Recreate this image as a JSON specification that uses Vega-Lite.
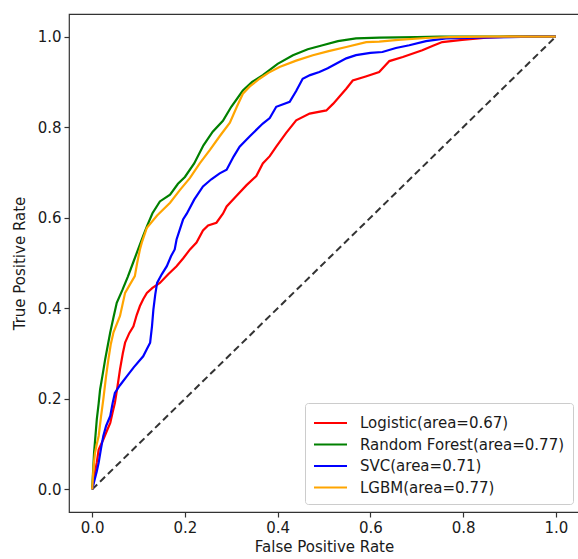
{
  "$schema": "https://vega.github.io/schema/vega-lite/v6.json",
  "autosize": "none",
  "width": 510,
  "height": 498,
  "padding": {"left": 69, "top": 14, "right": 0, "bottom": 47},
  "background": "white",
  "config": {
    "view": {"stroke": "#333333", "strokeWidth": 1.2},
    "axis": {
      "domain": false, "grid": false, "tickColor": "#333333", "tickSize": 5, "tickWidth": 1.2,
      "labelFont": "DejaVu Sans", "labelFontSize": 15, "labelColor": "#1a1a1a", "labelPadding": 3,
      "titleFont": "DejaVu Sans", "titleFontSize": 15, "titleFontWeight": "normal", "titleColor": "#1a1a1a"
    },
    "legend": {
      "labelFont": "DejaVu Sans", "labelFontSize": 15, "labelColor": "#1a1a1a", "labelLimit": 0
    }
  },
  "layer": [
    {
      "data": {"values": [{"fpr": 0, "tpr": 0}, {"fpr": 1, "tpr": 1}]},
      "mark": {"type": "line", "color": "#333333", "strokeWidth": 2, "strokeDash": [7, 4]},
      "encoding": {
        "x": {"field": "fpr", "type": "quantitative", "scale": {"domain": [-0.05, 1.05], "nice": false, "zero": false}},
        "y": {"field": "tpr", "type": "quantitative", "scale": {"domain": [-0.05, 1.05], "nice": false, "zero": false}}
      }
    },
    {
      "data": {"name": "roc"},
      "mark": {"type": "line", "strokeWidth": 2.2},
      "encoding": {
        "x": {"field": "fpr", "type": "quantitative", "title": "False Positive Rate",
              "axis": {"values": [0, 0.2, 0.4, 0.6, 0.8, 1.0], "format": ".1f", "titlePadding": 4}},
        "y": {"field": "tpr", "type": "quantitative", "title": "True Positive Rate",
              "axis": {"values": [0, 0.2, 0.4, 0.6, 0.8, 1.0], "format": ".1f", "titlePadding": 10}},
        "color": {
          "field": "model", "type": "nominal", "title": null,
          "scale": {
            "domain": ["Logistic(area=0.67)", "Random Forest(area=0.77)", "SVC(area=0.71)", "LGBM(area=0.77)"],
            "range": ["#ff0000", "#008000", "#0000ff", "#ffa500"]
          },
          "legend": {
            "orient": "none", "legendX": 236, "legendY": 389,
            "symbolType": "M-1,0H2", "symbolSize": 484, "symbolStrokeWidth": 2,
            "labelOffset": 23, "labelLimit": 0, "rowPadding": 1.5, "padding": 8,
            "strokeColor": "#cccccc", "fillColor": "white", "cornerRadius": 3
          }
        }
      }
    }
  ],
  "datasets": {
    "roc": [
      {"model": "Logistic(area=0.67)", "fpr": 0, "tpr": 0},
      {"model": "Logistic(area=0.67)", "fpr": 0.005, "tpr": 0.03},
      {"model": "Logistic(area=0.67)", "fpr": 0.010, "tpr": 0.06},
      {"model": "Logistic(area=0.67)", "fpr": 0.014, "tpr": 0.088},
      {"model": "Logistic(area=0.67)", "fpr": 0.024, "tpr": 0.110},
      {"model": "Logistic(area=0.67)", "fpr": 0.032, "tpr": 0.13},
      {"model": "Logistic(area=0.67)", "fpr": 0.039, "tpr": 0.147},
      {"model": "Logistic(area=0.67)", "fpr": 0.044, "tpr": 0.17},
      {"model": "Logistic(area=0.67)", "fpr": 0.049, "tpr": 0.191},
      {"model": "Logistic(area=0.67)", "fpr": 0.055, "tpr": 0.23},
      {"model": "Logistic(area=0.67)", "fpr": 0.060, "tpr": 0.265},
      {"model": "Logistic(area=0.67)", "fpr": 0.066, "tpr": 0.30},
      {"model": "Logistic(area=0.67)", "fpr": 0.071, "tpr": 0.324},
      {"model": "Logistic(area=0.67)", "fpr": 0.080, "tpr": 0.345},
      {"model": "Logistic(area=0.67)", "fpr": 0.089, "tpr": 0.36},
      {"model": "Logistic(area=0.67)", "fpr": 0.096, "tpr": 0.385},
      {"model": "Logistic(area=0.67)", "fpr": 0.103, "tpr": 0.405},
      {"model": "Logistic(area=0.67)", "fpr": 0.110, "tpr": 0.42},
      {"model": "Logistic(area=0.67)", "fpr": 0.118, "tpr": 0.434},
      {"model": "Logistic(area=0.67)", "fpr": 0.130, "tpr": 0.445},
      {"model": "Logistic(area=0.67)", "fpr": 0.146, "tpr": 0.456},
      {"model": "Logistic(area=0.67)", "fpr": 0.164, "tpr": 0.475},
      {"model": "Logistic(area=0.67)", "fpr": 0.182, "tpr": 0.493},
      {"model": "Logistic(area=0.67)", "fpr": 0.196, "tpr": 0.51},
      {"model": "Logistic(area=0.67)", "fpr": 0.211, "tpr": 0.53},
      {"model": "Logistic(area=0.67)", "fpr": 0.225, "tpr": 0.545},
      {"model": "Logistic(area=0.67)", "fpr": 0.239, "tpr": 0.572},
      {"model": "Logistic(area=0.67)", "fpr": 0.250, "tpr": 0.583},
      {"model": "Logistic(area=0.67)", "fpr": 0.268, "tpr": 0.589},
      {"model": "Logistic(area=0.67)", "fpr": 0.282, "tpr": 0.609},
      {"model": "Logistic(area=0.67)", "fpr": 0.290, "tpr": 0.625},
      {"model": "Logistic(area=0.67)", "fpr": 0.310, "tpr": 0.647},
      {"model": "Logistic(area=0.67)", "fpr": 0.333, "tpr": 0.672},
      {"model": "Logistic(area=0.67)", "fpr": 0.354, "tpr": 0.692},
      {"model": "Logistic(area=0.67)", "fpr": 0.368, "tpr": 0.72},
      {"model": "Logistic(area=0.67)", "fpr": 0.383, "tpr": 0.736},
      {"model": "Logistic(area=0.67)", "fpr": 0.397, "tpr": 0.757},
      {"model": "Logistic(area=0.67)", "fpr": 0.418, "tpr": 0.787},
      {"model": "Logistic(area=0.67)", "fpr": 0.440, "tpr": 0.815},
      {"model": "Logistic(area=0.67)", "fpr": 0.469, "tpr": 0.830},
      {"model": "Logistic(area=0.67)", "fpr": 0.505, "tpr": 0.837},
      {"model": "Logistic(area=0.67)", "fpr": 0.520, "tpr": 0.852},
      {"model": "Logistic(area=0.67)", "fpr": 0.533, "tpr": 0.867},
      {"model": "Logistic(area=0.67)", "fpr": 0.548, "tpr": 0.885},
      {"model": "Logistic(area=0.67)", "fpr": 0.562, "tpr": 0.903},
      {"model": "Logistic(area=0.67)", "fpr": 0.590, "tpr": 0.912},
      {"model": "Logistic(area=0.67)", "fpr": 0.619, "tpr": 0.922},
      {"model": "Logistic(area=0.67)", "fpr": 0.641, "tpr": 0.946},
      {"model": "Logistic(area=0.67)", "fpr": 0.670, "tpr": 0.955},
      {"model": "Logistic(area=0.67)", "fpr": 0.712, "tpr": 0.970},
      {"model": "Logistic(area=0.67)", "fpr": 0.735, "tpr": 0.980},
      {"model": "Logistic(area=0.67)", "fpr": 0.755, "tpr": 0.988},
      {"model": "Logistic(area=0.67)", "fpr": 0.798, "tpr": 0.993},
      {"model": "Logistic(area=0.67)", "fpr": 0.850, "tpr": 0.998},
      {"model": "Logistic(area=0.67)", "fpr": 0.900, "tpr": 1.0},
      {"model": "Logistic(area=0.67)", "fpr": 1.0, "tpr": 1.0},

      {"model": "Random Forest(area=0.77)", "fpr": 0, "tpr": 0},
      {"model": "Random Forest(area=0.77)", "fpr": 0.004, "tpr": 0.08},
      {"model": "Random Forest(area=0.77)", "fpr": 0.008, "tpr": 0.13},
      {"model": "Random Forest(area=0.77)", "fpr": 0.010, "tpr": 0.155},
      {"model": "Random Forest(area=0.77)", "fpr": 0.014, "tpr": 0.19},
      {"model": "Random Forest(area=0.77)", "fpr": 0.017, "tpr": 0.22},
      {"model": "Random Forest(area=0.77)", "fpr": 0.022, "tpr": 0.25},
      {"model": "Random Forest(area=0.77)", "fpr": 0.028, "tpr": 0.287},
      {"model": "Random Forest(area=0.77)", "fpr": 0.034, "tpr": 0.32},
      {"model": "Random Forest(area=0.77)", "fpr": 0.039, "tpr": 0.347},
      {"model": "Random Forest(area=0.77)", "fpr": 0.046, "tpr": 0.38},
      {"model": "Random Forest(area=0.77)", "fpr": 0.053, "tpr": 0.412},
      {"model": "Random Forest(area=0.77)", "fpr": 0.065, "tpr": 0.44},
      {"model": "Random Forest(area=0.77)", "fpr": 0.077, "tpr": 0.47},
      {"model": "Random Forest(area=0.77)", "fpr": 0.088, "tpr": 0.50},
      {"model": "Random Forest(area=0.77)", "fpr": 0.099, "tpr": 0.53},
      {"model": "Random Forest(area=0.77)", "fpr": 0.110, "tpr": 0.56},
      {"model": "Random Forest(area=0.77)", "fpr": 0.118, "tpr": 0.581},
      {"model": "Random Forest(area=0.77)", "fpr": 0.130, "tpr": 0.61},
      {"model": "Random Forest(area=0.77)", "fpr": 0.146, "tpr": 0.636},
      {"model": "Random Forest(area=0.77)", "fpr": 0.168, "tpr": 0.651},
      {"model": "Random Forest(area=0.77)", "fpr": 0.185, "tpr": 0.675},
      {"model": "Random Forest(area=0.77)", "fpr": 0.200, "tpr": 0.69},
      {"model": "Random Forest(area=0.77)", "fpr": 0.220, "tpr": 0.72},
      {"model": "Random Forest(area=0.77)", "fpr": 0.240, "tpr": 0.76},
      {"model": "Random Forest(area=0.77)", "fpr": 0.260, "tpr": 0.79},
      {"model": "Random Forest(area=0.77)", "fpr": 0.282, "tpr": 0.814},
      {"model": "Random Forest(area=0.77)", "fpr": 0.300, "tpr": 0.845},
      {"model": "Random Forest(area=0.77)", "fpr": 0.325, "tpr": 0.881},
      {"model": "Random Forest(area=0.77)", "fpr": 0.345, "tpr": 0.90},
      {"model": "Random Forest(area=0.77)", "fpr": 0.368, "tpr": 0.915},
      {"model": "Random Forest(area=0.77)", "fpr": 0.400, "tpr": 0.94},
      {"model": "Random Forest(area=0.77)", "fpr": 0.433, "tpr": 0.959},
      {"model": "Random Forest(area=0.77)", "fpr": 0.465, "tpr": 0.972},
      {"model": "Random Forest(area=0.77)", "fpr": 0.497, "tpr": 0.981},
      {"model": "Random Forest(area=0.77)", "fpr": 0.530, "tpr": 0.99},
      {"model": "Random Forest(area=0.77)", "fpr": 0.569, "tpr": 0.996},
      {"model": "Random Forest(area=0.77)", "fpr": 0.620, "tpr": 0.998},
      {"model": "Random Forest(area=0.77)", "fpr": 0.700, "tpr": 0.999},
      {"model": "Random Forest(area=0.77)", "fpr": 0.750, "tpr": 1.0},
      {"model": "Random Forest(area=0.77)", "fpr": 1.0, "tpr": 1.0},

      {"model": "SVC(area=0.71)", "fpr": 0, "tpr": 0},
      {"model": "SVC(area=0.71)", "fpr": 0.005, "tpr": 0.02},
      {"model": "SVC(area=0.71)", "fpr": 0.010, "tpr": 0.04},
      {"model": "SVC(area=0.71)", "fpr": 0.014, "tpr": 0.059},
      {"model": "SVC(area=0.71)", "fpr": 0.019, "tpr": 0.09},
      {"model": "SVC(area=0.71)", "fpr": 0.024, "tpr": 0.118},
      {"model": "SVC(area=0.71)", "fpr": 0.030, "tpr": 0.14},
      {"model": "SVC(area=0.71)", "fpr": 0.039, "tpr": 0.162},
      {"model": "SVC(area=0.71)", "fpr": 0.044, "tpr": 0.19},
      {"model": "SVC(area=0.71)", "fpr": 0.049, "tpr": 0.213},
      {"model": "SVC(area=0.71)", "fpr": 0.060, "tpr": 0.23},
      {"model": "SVC(area=0.71)", "fpr": 0.075, "tpr": 0.25},
      {"model": "SVC(area=0.71)", "fpr": 0.090, "tpr": 0.27},
      {"model": "SVC(area=0.71)", "fpr": 0.110, "tpr": 0.294},
      {"model": "SVC(area=0.71)", "fpr": 0.118, "tpr": 0.31},
      {"model": "SVC(area=0.71)", "fpr": 0.125, "tpr": 0.324},
      {"model": "SVC(area=0.71)", "fpr": 0.129, "tpr": 0.36},
      {"model": "SVC(area=0.71)", "fpr": 0.132, "tpr": 0.397},
      {"model": "SVC(area=0.71)", "fpr": 0.136, "tpr": 0.43},
      {"model": "SVC(area=0.71)", "fpr": 0.140, "tpr": 0.456},
      {"model": "SVC(area=0.71)", "fpr": 0.150, "tpr": 0.475},
      {"model": "SVC(area=0.71)", "fpr": 0.161, "tpr": 0.493},
      {"model": "SVC(area=0.71)", "fpr": 0.170, "tpr": 0.515},
      {"model": "SVC(area=0.71)", "fpr": 0.178, "tpr": 0.53},
      {"model": "SVC(area=0.71)", "fpr": 0.182, "tpr": 0.552},
      {"model": "SVC(area=0.71)", "fpr": 0.196, "tpr": 0.596},
      {"model": "SVC(area=0.71)", "fpr": 0.204, "tpr": 0.609},
      {"model": "SVC(area=0.71)", "fpr": 0.220, "tpr": 0.64},
      {"model": "SVC(area=0.71)", "fpr": 0.239, "tpr": 0.669},
      {"model": "SVC(area=0.71)", "fpr": 0.257, "tpr": 0.685},
      {"model": "SVC(area=0.71)", "fpr": 0.275, "tpr": 0.698},
      {"model": "SVC(area=0.71)", "fpr": 0.290, "tpr": 0.706},
      {"model": "SVC(area=0.71)", "fpr": 0.305, "tpr": 0.735},
      {"model": "SVC(area=0.71)", "fpr": 0.318, "tpr": 0.757},
      {"model": "SVC(area=0.71)", "fpr": 0.340, "tpr": 0.78},
      {"model": "SVC(area=0.71)", "fpr": 0.368, "tpr": 0.808},
      {"model": "SVC(area=0.71)", "fpr": 0.383, "tpr": 0.82},
      {"model": "SVC(area=0.71)", "fpr": 0.397, "tpr": 0.845},
      {"model": "SVC(area=0.71)", "fpr": 0.426, "tpr": 0.856},
      {"model": "SVC(area=0.71)", "fpr": 0.440, "tpr": 0.88},
      {"model": "SVC(area=0.71)", "fpr": 0.454, "tpr": 0.907},
      {"model": "SVC(area=0.71)", "fpr": 0.470, "tpr": 0.915},
      {"model": "SVC(area=0.71)", "fpr": 0.490, "tpr": 0.922},
      {"model": "SVC(area=0.71)", "fpr": 0.508, "tpr": 0.93},
      {"model": "SVC(area=0.71)", "fpr": 0.526, "tpr": 0.940},
      {"model": "SVC(area=0.71)", "fpr": 0.548, "tpr": 0.952},
      {"model": "SVC(area=0.71)", "fpr": 0.569, "tpr": 0.959},
      {"model": "SVC(area=0.71)", "fpr": 0.600, "tpr": 0.964},
      {"model": "SVC(area=0.71)", "fpr": 0.626, "tpr": 0.966},
      {"model": "SVC(area=0.71)", "fpr": 0.655, "tpr": 0.975},
      {"model": "SVC(area=0.71)", "fpr": 0.684, "tpr": 0.981},
      {"model": "SVC(area=0.71)", "fpr": 0.720, "tpr": 0.99},
      {"model": "SVC(area=0.71)", "fpr": 0.763, "tpr": 0.996},
      {"model": "SVC(area=0.71)", "fpr": 0.830, "tpr": 0.998},
      {"model": "SVC(area=0.71)", "fpr": 0.900, "tpr": 0.999},
      {"model": "SVC(area=0.71)", "fpr": 0.950, "tpr": 1.0},
      {"model": "SVC(area=0.71)", "fpr": 1.0, "tpr": 1.0},

      {"model": "LGBM(area=0.77)", "fpr": 0, "tpr": 0},
      {"model": "LGBM(area=0.77)", "fpr": 0.003, "tpr": 0.05},
      {"model": "LGBM(area=0.77)", "fpr": 0.006, "tpr": 0.08},
      {"model": "LGBM(area=0.77)", "fpr": 0.010, "tpr": 0.10},
      {"model": "LGBM(area=0.77)", "fpr": 0.014, "tpr": 0.118},
      {"model": "LGBM(area=0.77)", "fpr": 0.019, "tpr": 0.16},
      {"model": "LGBM(area=0.77)", "fpr": 0.024, "tpr": 0.199},
      {"model": "LGBM(area=0.77)", "fpr": 0.030, "tpr": 0.25},
      {"model": "LGBM(area=0.77)", "fpr": 0.035, "tpr": 0.287},
      {"model": "LGBM(area=0.77)", "fpr": 0.040, "tpr": 0.32},
      {"model": "LGBM(area=0.77)", "fpr": 0.046, "tpr": 0.347},
      {"model": "LGBM(area=0.77)", "fpr": 0.060, "tpr": 0.383},
      {"model": "LGBM(area=0.77)", "fpr": 0.071, "tpr": 0.434},
      {"model": "LGBM(area=0.77)", "fpr": 0.080, "tpr": 0.45},
      {"model": "LGBM(area=0.77)", "fpr": 0.092, "tpr": 0.471},
      {"model": "LGBM(area=0.77)", "fpr": 0.097, "tpr": 0.50},
      {"model": "LGBM(area=0.77)", "fpr": 0.103, "tpr": 0.53},
      {"model": "LGBM(area=0.77)", "fpr": 0.107, "tpr": 0.545},
      {"model": "LGBM(area=0.77)", "fpr": 0.118, "tpr": 0.578},
      {"model": "LGBM(area=0.77)", "fpr": 0.140, "tpr": 0.605},
      {"model": "LGBM(area=0.77)", "fpr": 0.168, "tpr": 0.633},
      {"model": "LGBM(area=0.77)", "fpr": 0.189, "tpr": 0.661},
      {"model": "LGBM(area=0.77)", "fpr": 0.211, "tpr": 0.688},
      {"model": "LGBM(area=0.77)", "fpr": 0.232, "tpr": 0.72},
      {"model": "LGBM(area=0.77)", "fpr": 0.254, "tpr": 0.75},
      {"model": "LGBM(area=0.77)", "fpr": 0.275, "tpr": 0.78},
      {"model": "LGBM(area=0.77)", "fpr": 0.297, "tpr": 0.81},
      {"model": "LGBM(area=0.77)", "fpr": 0.312, "tpr": 0.845},
      {"model": "LGBM(area=0.77)", "fpr": 0.325, "tpr": 0.874},
      {"model": "LGBM(area=0.77)", "fpr": 0.340, "tpr": 0.89},
      {"model": "LGBM(area=0.77)", "fpr": 0.361, "tpr": 0.907},
      {"model": "LGBM(area=0.77)", "fpr": 0.380, "tpr": 0.92},
      {"model": "LGBM(area=0.77)", "fpr": 0.404, "tpr": 0.933},
      {"model": "LGBM(area=0.77)", "fpr": 0.440, "tpr": 0.947},
      {"model": "LGBM(area=0.77)", "fpr": 0.476, "tpr": 0.959},
      {"model": "LGBM(area=0.77)", "fpr": 0.510, "tpr": 0.968},
      {"model": "LGBM(area=0.77)", "fpr": 0.548, "tpr": 0.977},
      {"model": "LGBM(area=0.77)", "fpr": 0.591, "tpr": 0.988},
      {"model": "LGBM(area=0.77)", "fpr": 0.619, "tpr": 0.989},
      {"model": "LGBM(area=0.77)", "fpr": 0.660, "tpr": 0.993},
      {"model": "LGBM(area=0.77)", "fpr": 0.720, "tpr": 0.997},
      {"model": "LGBM(area=0.77)", "fpr": 0.770, "tpr": 0.999},
      {"model": "LGBM(area=0.77)", "fpr": 0.850, "tpr": 1.0},
      {"model": "LGBM(area=0.77)", "fpr": 1.0, "tpr": 1.0}
    ]
  }
}
